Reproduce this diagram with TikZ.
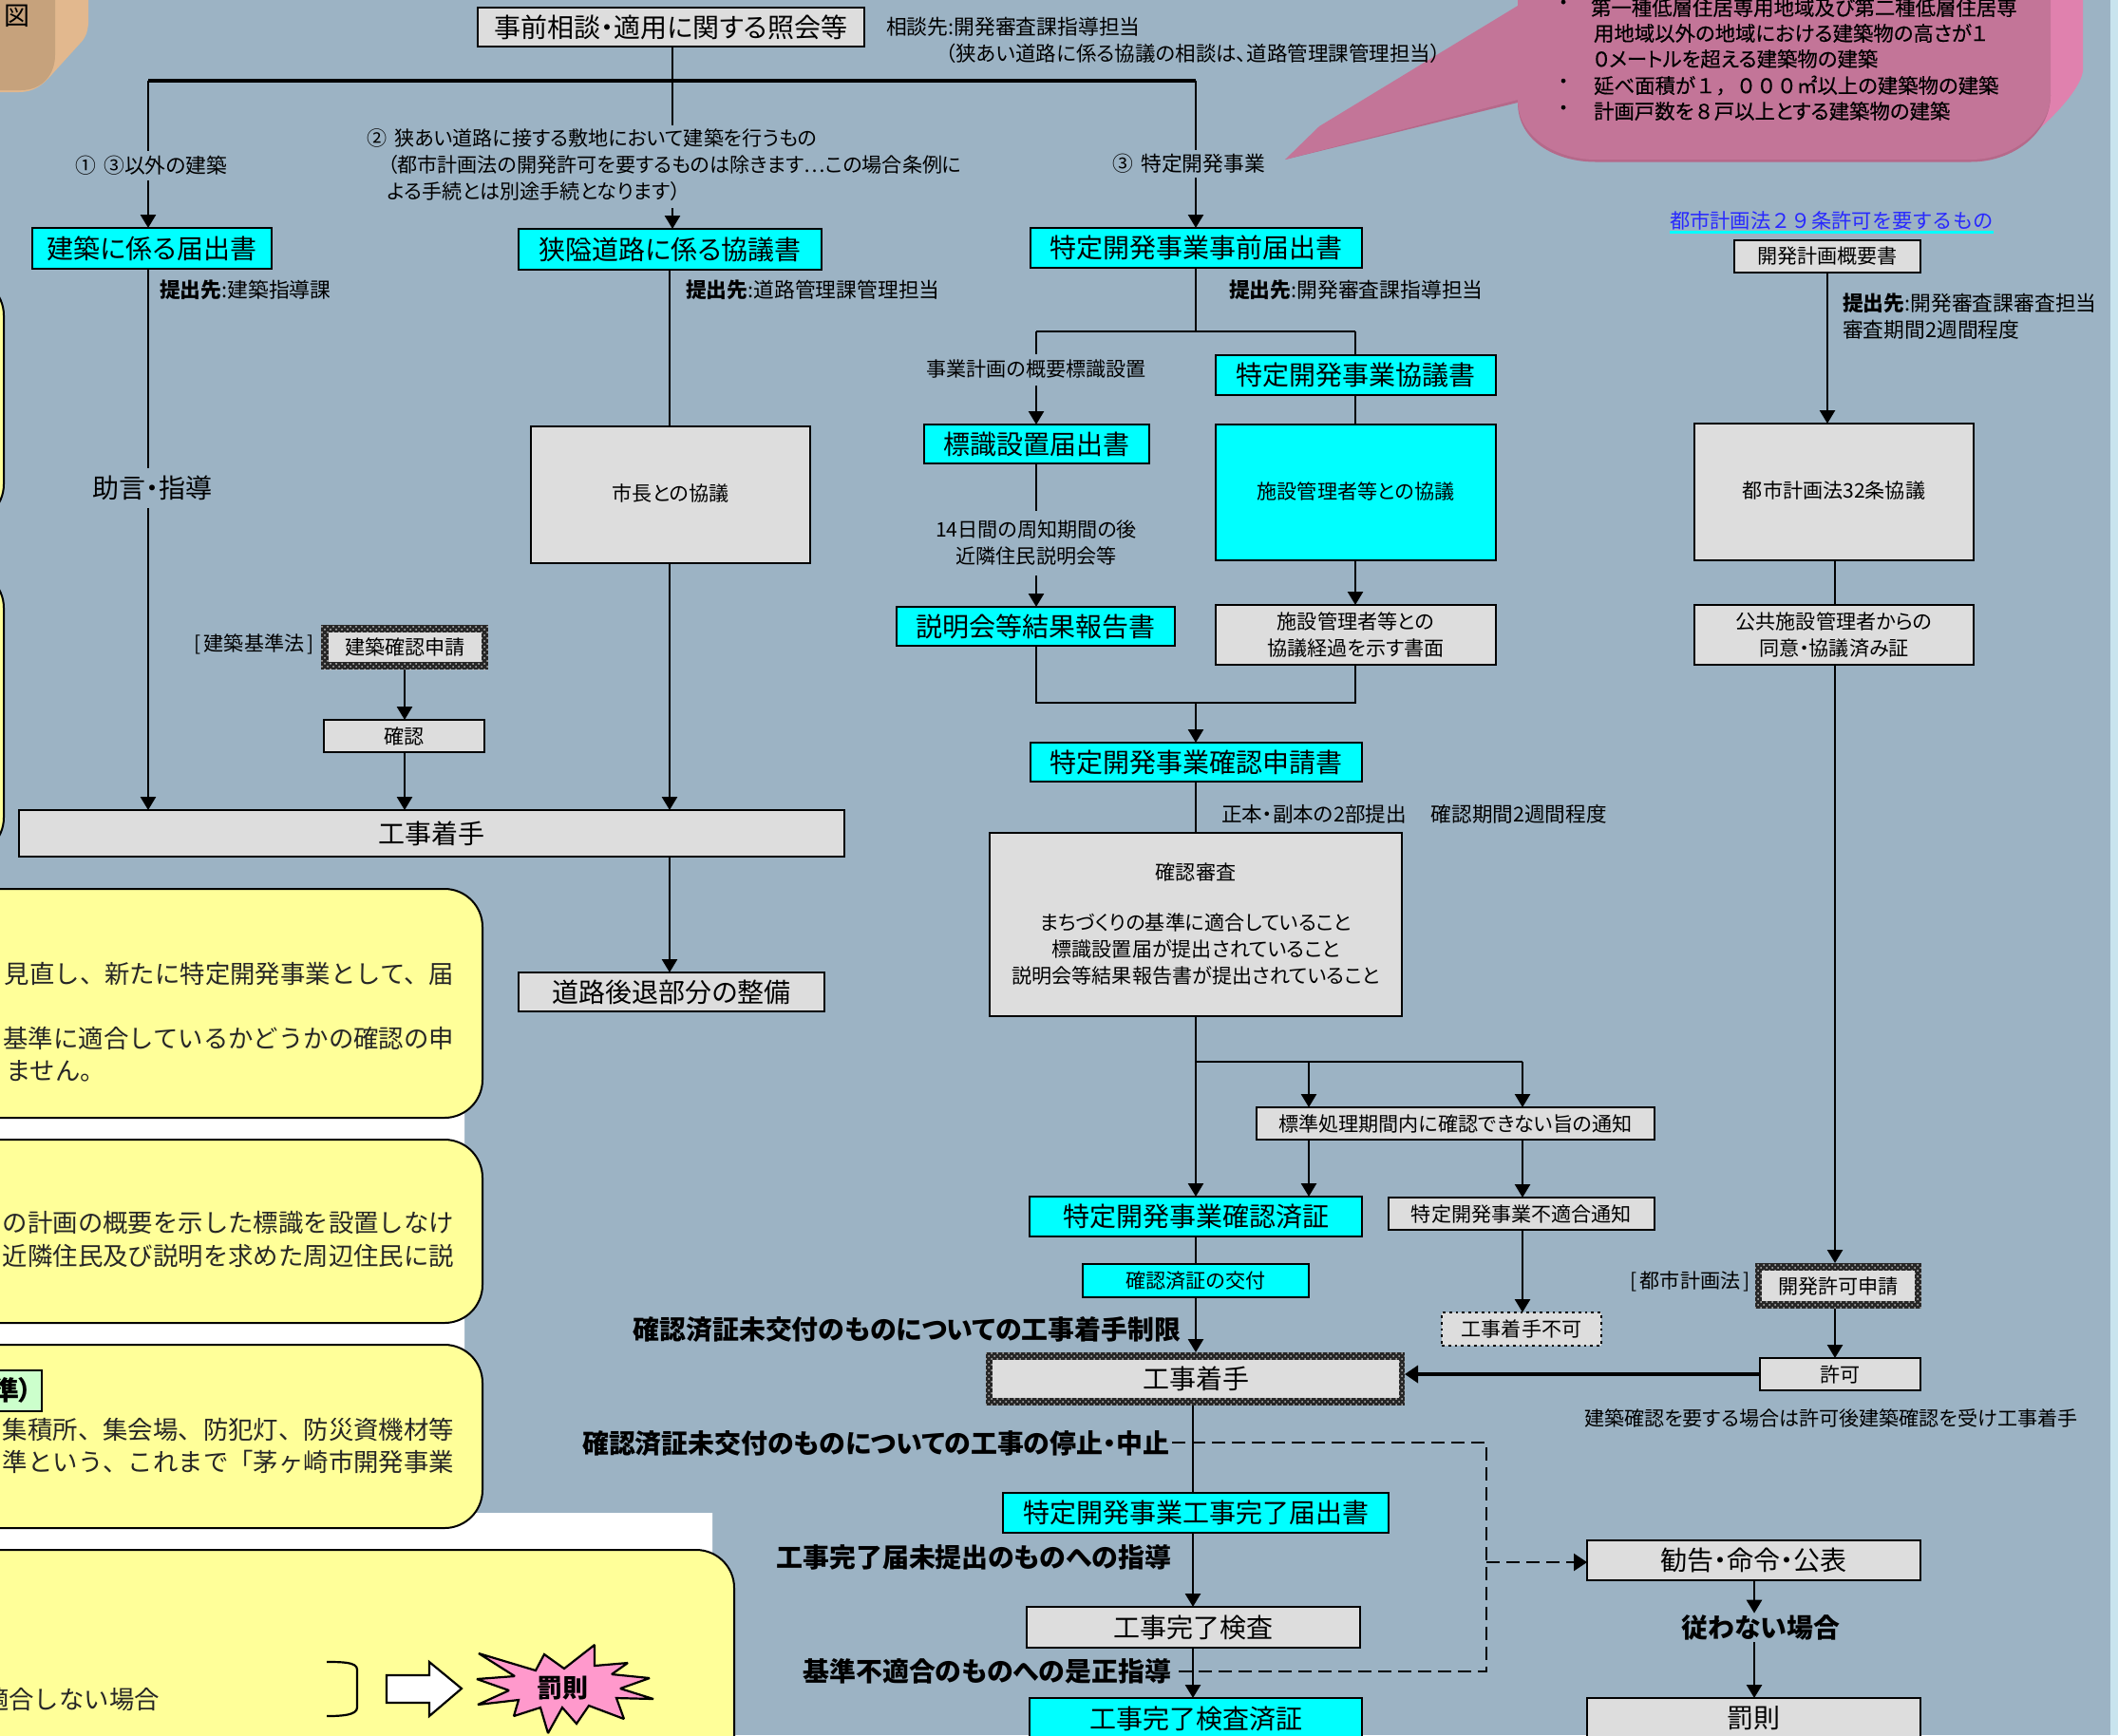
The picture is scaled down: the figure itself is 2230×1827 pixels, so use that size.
\documentclass[tikz,border=0pt]{standalone}
\usepackage{fontspec}
\setmainfont[RawFeature={+palt}]{Noto Sans CJK JP}
\newfontfamily\monoja{Noto Sans CJK JP}
\newfontfamily\callja[RawFeature={+palt},FakeBold=0.35]{Noto Sans CJK JP}
\newfontfamily\callmono[FakeBold=0.35]{Noto Sans CJK JP}
\usetikzlibrary{arrows.meta,patterns}
\definecolor{bgc}{HTML}{9CB3C4}
\definecolor{boxg}{HTML}{DDDDDD}
\definecolor{cyanb}{HTML}{00FFFF}
\definecolor{yell}{HTML}{FFFF99}
\definecolor{pinkd}{HTML}{C37598}
\definecolor{pinkl}{HTML}{E081AE}
\definecolor{pinks}{HTML}{B5698A}
\definecolor{tand}{HTML}{C6A27C}
\definecolor{tanl}{HTML}{E2B88E}
\definecolor{starp}{HTML}{FF99CC}
\definecolor{greenb}{HTML}{CCFFCC}
\definecolor{stripc}{HTML}{C9E4EE}
\tikzset{
  x=0.5pt,y=-0.5pt,
  fbig/.style={font=\fontsize{14pt}{16pt}\selectfont},
  fsm/.style={font=\fontsize{10.55pt}{14pt}\selectfont},
  fsmw/.style={font=\fontsize{10.9pt}{14pt}\selectfont},
  fbold/.style={font=\fontsize{13.95pt}{16pt}\selectfont\bfseries},
  fcall/.style={font=\callja\fontsize{10.7pt}{13.5pt}\selectfont},
  fpan/.style={font=\monoja\fontsize{13.2pt}{16pt}\selectfont,text=black!85},
  bxbase/.style={inner sep=0pt,outer sep=0pt,align=center,line width=1.4pt,draw=black},
  gbox/.style={bxbase,fill=boxg},
  cbox/.style={bxbase,fill=cyanb},
  hatchbox/.style={inner sep=0pt,outer sep=0pt,preaction={fill=black!85},pattern=crosshatch dots,pattern color=black!25},
  dotbox/.style={bxbase,fill=boxg,dotted},
  inbox/.style={inner sep=0pt,outer sep=0pt,align=center,fill=boxg},
  txt/.style={inner sep=0pt,outer sep=0pt,align=left},
  gaplab/.style={inner sep=1pt,outer sep=0pt,fill=bgc,align=left},
  ln/.style={line width=1.3pt,draw=black},
  lnthick/.style={line width=2pt,draw=black},
  arr/.style={ln,-{Triangle[length=7pt,width=8pt]}},
  arrthick/.style={line width=2.2pt,draw=black,-{Triangle[length=7pt,width=9pt]}},
  dsh/.style={line width=1.2pt,draw=black,dash pattern=on 7pt off 3.5pt},
  panel/.style={fill=yell,draw=black,line width=1pt,rounded corners=20pt},
}
\newcommand{\bx}[7]{\node[#2,minimum width={(#5-#3)*0.5pt},minimum height={(#6-#4)*0.5pt}] (#1) at ({(#3+#5)/2},{(#4+#6)/2}) {#7};}
\begin{document}
\begin{tikzpicture}
\useasboundingbox (0,0) rectangle (2230,1827);
\clip (0,0) rectangle (2230,1827);
\fill[bgc] (0,0) rectangle (2230,1827);
\fill[stripc] (2222,0) rectangle (2230,1827);
% white page showing behind the panels
\fill[white] (0,1170) -| (489,1593) -| (750,1827) -- (0,1827) -- cycle;
% tan tab, top left
\fill[tanl] (0,0) -- (93,0) -- (93,25) .. controls (92,35) and (90,40) .. (84,46) -- (55,78) .. controls (45,90) and (35,97) .. (20,97) -- (0,97) -- cycle;
\fill[tand] (0,0) -- (58,0) -- (58,58) .. controls (58,78) and (45,95) .. (22,95) -- (0,95) -- cycle;
\node[txt,font=\fontsize{13.5pt}{15pt}\selectfont] (zu) at (17.5,17) {図};
% yellow panels
\draw[panel] (-80,292) rectangle (4,550);
\draw[panel] (-80,600) rectangle (4,901);
\draw[panel] (-80,936) rectangle (508,1177);
\draw[panel] (-80,1200) rectangle (508,1393);
\draw[panel] (-80,1416) rectangle (508,1609);
\draw[panel] (-80,1632) rectangle (773,1900);
\node[txt,fpan,anchor=east] (p1a) at (478,1025) {見直し、新たに特定開発事業として、届};
\node[txt,fpan,anchor=east] (p1b) at (478,1093) {基準に適合しているかどうかの確認の申};
\node[txt,fpan,anchor=east] (p1c) at (111,1128) {りません。};
\node[txt,fpan,anchor=east] (p2a) at (478,1288) {の計画の概要を示した標識を設置しなけ};
\node[txt,fpan,anchor=east] (p2b) at (478,1323) {近隣住民及び説明を求めた周辺住民に説};
\bx{greenlab}{bxbase,fill=greenb}{-40}{1443}{44}{1486}{}
\node[txt,fbold,anchor=east] (greentx) at (34,1464) {準）};
\node[txt,fpan,anchor=east] (p3a) at (478,1505) {集積所、集会場、防犯灯、防災資機材等};
\node[txt,fpan,anchor=east] (p3b) at (478,1539) {準という、これまで「茅ヶ崎市開発事業};
\node[txt,fpan,anchor=east] (p4a) at (168,1789) {適合しない場合};
\draw[line width=1.1pt] (344,1750) .. controls (360,1750) and (376,1750) .. (376,1758) -- (376,1798) .. controls (376,1806) and (360,1807) .. (344,1807);
\draw[line width=1.1pt,fill=white] (407,1764) -- (452,1764) -- (452,1750) -- (486,1778) -- (452,1807) -- (452,1793) -- (407,1793) -- cycle;
\draw[line width=1.1pt,miter limit=2,fill=starp] (504,1741) -- (564,1759) -- (573,1742) -- (594,1757) -- (626,1732) -- (626,1754) -- (661,1751) -- (644,1763) -- (684,1767) -- (653,1778) -- (688,1789) -- (649,1788) -- (657,1810) -- (620,1796) -- (607,1815) -- (592,1798) -- (577,1825) -- (569,1798) -- (541,1807) -- (546,1790) -- (503,1795) -- (536,1780) -- (502,1768) -- (542,1765) -- cycle;
\node[txt,font=\fontsize{13.5pt}{16pt}\selectfont\bfseries] (bassoku2) at (592,1778) {罰則};
% pink callout
\fill[pinkl] (2100,-5) -- (2193,-5) -- (2193,75) .. controls (2190,95) and (2160,125) .. (2142,140) -- (2100,140) -- cycle;
\fill[pinks] (1353,168) -- (1598,108) .. controls (1598,150) and (1640,170.5) .. (1680,170.5) -- (2075,170.5) .. controls (2120,170.5) and (2159,140) .. (2159,100) -- (1500,100) -- cycle;
\fill[pinkd] (1598,-5) -- (2159,-5) -- (2159,100) .. controls (2159,135) and (2120,168) .. (2075,168) -- (1680,168) .. controls (1640,168) and (1598,145) .. (1598,105) -- (1353,168) -- (1389,133) -- (1598,6) -- cycle;
\node[txt,fcall] (c0b) at (1646,5) {・};
\node[txt,fcall,anchor=west] (c1) at (1675,8) {第一種低層住居専用地域及び第二種低層住居専};
\node[txt,fcall,anchor=west] (c2) at (1678,35) {用地域以外の地域における建築物の高さが１};
\node[txt,fcall,anchor=west] (c3) at (1678,62) {０メートルを超える建築物の建築};
\node[txt,fcall] (c4b) at (1646,88) {・};
\node[txt,fcall,anchor=west] (c4) at (1678,90) {延べ面積が{\callmono １，０００}㎡以上の建築物の建築};
\node[txt,fcall] (c5b) at (1646,116) {・};
\node[txt,fcall,anchor=west] (c5) at (1678,117) {計画戸数を{\callmono ８}戸以上とする建築物の建築};
% axis coordinates
\coordinate (xL) at (156,85);
\coordinate (xM) at (708,85);
\coordinate (m1) at (708,132);
\coordinate (m2) at (708,219);
\coordinate (xC) at (1259,85);
\coordinate (xN) at (705,0);
\coordinate (xKa) at (426,0);
\coordinate (xSign) at (1091,349);
\coordinate (xKyo) at (1427,349);
\coordinate (xJoin) at (1259,740);
\coordinate (xJa) at (1091,740);
\coordinate (xJb) at (1427,740);
\coordinate (xBr) at (1259,1118);
\coordinate (xBa) at (1378,1118);
\coordinate (xBb) at (1603,1118);
\coordinate (xS) at (1256,0);
\coordinate (xR) at (1932,0);
\coordinate (xD) at (1565,1519);
\coordinate (xDb) at (1565,1760);
\coordinate (xDm) at (1565,1645);
\coordinate (xK) at (1847,0);
% boxes
\bx{top}{gbox,fbig}{503}{8}{910}{49}{事前相談・適用に関する照会等}
\bx{b1}{cbox,fbig}{34}{240}{286}{283}{建築に係る届出書}
\bx{b2}{cbox,fbig}{546}{241}{865}{284}{狭隘道路に係る協議書}
\bx{b3}{cbox,fbig}{1085}{240}{1434}{282}{特定開発事業事前届出書}
\bx{mayor}{gbox,fsm}{559}{449}{853}{593}{\raisebox{2pt}{市長との協議}}
\bx{start1}{gbox,fbig}{20}{853}{889}{902}{工事着手}
\bx{road}{gbox,fbig}{546}{1024}{868}{1065}{道路後退部分の整備}
\bx{kcO}{hatchbox}{338}{658}{514}{705}{}
\bx{kcI}{inbox,fsm}{346}{666}{507}{697}{建築確認申請}
\bx{kk}{gbox,fsm}{341}{758}{510}{792}{確認}
\bx{sk}{cbox,fbig}{973}{447}{1210}{488}{標識設置届出書}
\bx{sm}{cbox,fbig}{944}{639}{1237}{680}{説明会等結果報告書}
\bx{kg}{cbox,fbig}{1280}{374}{1575}{416}{特定開発事業協議書}
\bx{sisetu}{cbox,fsm}{1280}{447}{1575}{590}{\raisebox{2pt}{施設管理者等との協議}}
\bx{keika}{gbox,fsm}{1280}{637}{1575}{700}{施設管理者等との\\協議経過を示す書面}
\bx{sinsei}{cbox,fbig}{1085}{782}{1434}{823}{特定開発事業確認申請書}
\bx{sinsa}{gbox,fsm}{1042}{877}{1476}{1070}{確認審査\\[12.5pt]まちづくりの基準に適合していること\\標識設置届が提出されていること\\説明会等結果報告書が提出されていること}
\bx{tuchi}{gbox,fsm}{1323}{1166}{1742}{1200}{標準処理期間内に確認できない旨の通知}
\bx{zumi}{cbox,fbig}{1084}{1260}{1434}{1302}{特定開発事業確認済証}
\bx{futeki}{gbox,fsm}{1462}{1261}{1742}{1295}{特定開発事業不適合通知}
\bx{kofu}{cbox,fsm}{1140}{1331}{1378}{1366}{確認済証の交付}
\bx{fuka}{dotbox,fsm}{1518}{1382}{1686}{1417}{工事着手不可}
\bx{st2O}{hatchbox}{1038}{1424}{1479}{1480}{}
\bx{st2I}{inbox,fbig}{1045}{1432}{1473}{1472}{工事着手}
\bx{kyoka}{gbox,fsm}{1853}{1430}{2022}{1464}{許可}
\bx{kpO}{hatchbox}{1848}{1330}{2023}{1378}{}
\bx{kpI}{inbox,fsm}{1855}{1338}{2016}{1370}{開発許可申請}
\bx{kanryo}{cbox,fbig}{1056}{1572}{1462}{1614}{特定開発事業工事完了届出書}
\bx{kensa}{gbox,fbig}{1081}{1692}{1432}{1735}{工事完了検査}
\bx{kenzumi}{cbox,fbig}{1084}{1788}{1434}{1831}{工事完了検査済証}
\bx{kankoku}{gbox,fbig}{1671}{1622}{2022}{1664}{勧告・命令・公表}
\bx{bassoku}{gbox,fbig}{1671}{1788}{2022}{1831}{罰則}
\bx{gaiyo}{gbox,fsm}{1826}{253}{2022}{287}{開発計画概要書}
\bx{k32}{gbox,fsm}{1784}{446}{2078}{590}{\raisebox{2pt}{都市計画法32条協議}}
\bx{doi}{gbox,fsm}{1784}{637}{2078}{700}{公共施設管理者からの\\同意・協議済み証}
\node[txt,fbold,inner ysep=1pt] (sitagau) at (1854,1714) {従わない場合};
% connectors
\draw[lnthick] (xL) -- (xC);
\draw[ln] (top.south -| xM) -- (m1);
\draw[arr] (m2) -- (b2.north -| xM);
\draw[arr] (xL) -- (b1.north -| xL);
\draw[arr] (xC) -- (b3.north -| xC);
\draw[arr] (b1.south -| xL) -- (start1.north -| xL);
\draw[ln] (b2.south -| xN) -- (mayor.north -| xN);
\draw[arr] (mayor.south -| xN) -- (start1.north -| xN);
\draw[arr] (start1.south -| xN) -- (road.north -| xN);
\draw[arr] (kcO.south -| xKa) -- (kk.north -| xKa);
\draw[arr] (kk.south -| xKa) -- (start1.north -| xKa);
\draw[ln] (b3.south -| xC) -- (xC |- xSign);
\draw[ln] (xSign) -- (xKyo);
\draw[arr] (xSign) -- (sk.north -| xSign);
\draw[ln] (xKyo) -- (kg.north -| xKyo);
\draw[arr] (sk.south -| xSign) -- (sm.north -| xSign);
\draw[ln] (kg.south -| xKyo) -- (sisetu.north -| xKyo);
\draw[arr] (sisetu.south -| xKyo) -- (keika.north -| xKyo);
\draw[ln] (sm.south -| xJa) -- (xJa) -- (xJb) -- (keika.south -| xJb);
\draw[arr] (xJoin) -- (sinsei.north -| xJoin);
\draw[ln] (sinsei.south -| xJoin) -- (sinsa.north -| xJoin);
\draw[arr] (sinsa.south -| xJoin) -- (zumi.north -| xJoin);
\draw[ln] (xBr) -- (xBb);
\draw[arr] (xBa) -- (tuchi.north -| xBa);
\draw[arr] (xBb) -- (tuchi.north -| xBb);
\draw[arr] (tuchi.south -| xBa) -- (zumi.north -| xBa);
\draw[arr] (tuchi.south -| xBb) -- (futeki.north -| xBb);
\draw[arr] (futeki.south -| xBb) -- (fuka.north -| xBb);
\draw[ln] (zumi.south -| xJoin) -- (kofu.north -| xJoin);
\draw[arr] (kofu.south -| xJoin) -- (st2O.north -| xJoin);
\draw[ln] (st2O.south -| xS) -- (kanryo.north -| xS);
\draw[arr] (kanryo.south -| xS) -- (kensa.north -| xS);
\draw[arr] (kensa.south -| xS) -- (kenzumi.north -| xS);
\draw[arr] (gaiyo.south) -- (k32.north -| gaiyo.south);
\draw[ln] (k32.south -| xR) -- (doi.north -| xR);
\draw[arr] (doi.south -| xR) -- (kpO.north -| xR);
\draw[arr] (kpO.south -| xR) -- (kyoka.north -| xR);
\draw[arrthick] (kyoka.west) -- (kyoka.west -| st2O.east);
\draw[arr] (kankoku.south -| xK) -- (sitagau.north -| xK);
\draw[arr] (sitagau.south -| xK) -- (bassoku.north -| xK);
% labels that interrupt a connector
\node[gaplab,fsmw,anchor=west,minimum height=15.5pt] (lab1) at (77,174) {①\,  ③以外の建築};
\node[txt,fsm,anchor=north west] (lab2) at (386,136) {②\, 狭あい道路に接する敷地において建築を行うもの\\\hspace{11pt}（都市計画法の開発許可を要するものは除きます…この場合条例に\\\hspace{11pt}よる手続とは別途手続となります）};
\node[gaplab,fsmw,anchor=west,minimum height=14.5pt] (lab3) at (1169,172) {③\, 特定開発事業};
\node[gaplab,fbig,anchor=center,minimum height=21pt] (adv) at (160,514) {助言・指導};
\node[gaplab,fsm,anchor=center,minimum height=16.5pt] (lab4) at (1091,389) {事業計画の概要標識設置};
\node[gaplab,fsm,anchor=center,align=center,minimum height=34pt] (lab5) at (1091,572) {14日間の周知期間の後\\近隣住民説明会等};
% plain texts
\node[txt,fsmw,anchor=west] (soudan) at (933,28) {相談先:開発審査課指導担当};
\node[txt,font=\fontsize{10.75pt}{14pt}\selectfont,anchor=east] (soudan2) at (1517,56) {（狭あい道路に係る協議の相談は、道路管理課管理担当）};
\node[txt,fsmw,anchor=west] (tei1) at (168,305) {\textbf{提出先}:建築指導課};
\node[txt,fsmw,anchor=west] (tei2) at (722,305) {\textbf{提出先}:道路管理課管理担当};
\node[txt,fsmw,anchor=west] (tei3) at (1294,305) {\textbf{提出先}:開発審査課指導担当};
\node[txt,fsmw,anchor=west] (tei4) at (1940,319) {\textbf{提出先}:開発審査課審査担当};
\node[txt,fsmw,anchor=west] (tei5) at (1940,347) {審査期間2週間程度};
\node[txt,font=\monoja\fontsize{10.65pt}{13pt}\selectfont,text={rgb,255:red,40;green,40;blue,255},anchor=west] (toshi) at (1758,232) {都市計画法２９条許可を要するもの};
\draw[line width=1.5pt,draw=cyanb] (toshi.south west)++(0,3) -- ++(341,0);
\node[txt,fsm,anchor=east] (kijun) at (331,678) {[\,建築基準法\,]};
\node[txt,fsm,anchor=east] (toshih) at (1843,1349) {[\,都市計画法\,]};
\node[txt,font=\fontsize{10.8pt}{14pt}\selectfont,anchor=west] (seihon) at (1286,857) {正本・副本の2部提出\hspace{13pt}確認期間2週間程度};
\node[txt,fsm,anchor=west] (kenchiku) at (1668,1493) {建築確認を要する場合は許可後建築確認を受け工事着手};
\node[txt,fbold,anchor=east] (seigen) at (1243,1400) {確認済証未交付のものについての工事着手制限};
\node[txt,fbold,anchor=east] (teisi) at (1231,1520) {確認済証未交付のものについての工事の停止・中止};
\node[txt,fbold,anchor=east] (sido) at (1233,1640) {工事完了届未提出のものへの指導};
\node[txt,fbold,anchor=east] (zesei) at (1233,1760) {基準不適合のものへの是正指導};
% dashed connectors
\draw[dsh] (teisi.east |- xD)++(3,0) -- (xD) -- (xDb) -- ([xshift=3pt]zesei.east |- xDb);
\draw[dsh,-{Triangle[length=7pt,width=9pt,fill=black]}] (xDm) -- (kankoku.west |- xDm);
\end{tikzpicture}
\end{document}
